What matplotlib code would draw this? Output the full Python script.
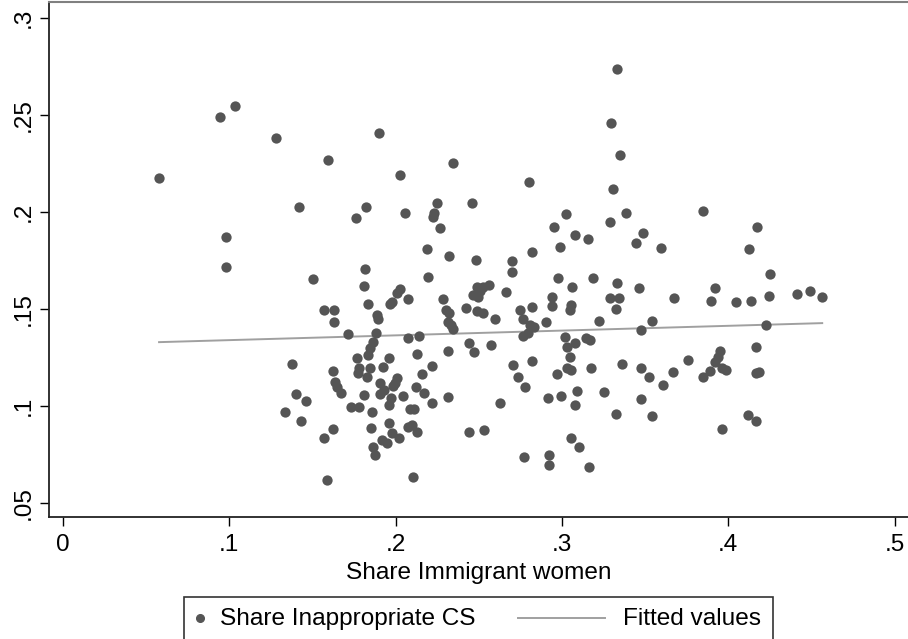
'''
Scatter of inappropriate CS share against immigrant women share,
with a linear fit (Stata-like look).
'''

import numpy as np
import matplotlib.pyplot as plt
from matplotlib.lines import Line2D
from matplotlib.patches import Rectangle

plt.rcParams['font.family'] = ['Liberation Sans', 'DejaVu Sans']

# values
share_immigrant = [
    0.1032, 0.0945, 0.1280, 0.0577, 0.1420, 0.0980, 0.0980, 0.1503,
    0.1566, 0.1375, 0.1399, 0.1462, 0.1333, 0.1432, 0.1566, 0.1585,
    0.1901, 0.1591, 0.2343, 0.2026, 0.1821, 0.1761, 0.2056, 0.2248, 0.2457, 0.2230,
    0.2222, 0.2268, 0.2190, 0.2320, 0.2485, 0.2698, 0.2698, 0.1815, 0.2196,
    0.1808, 0.2026, 0.2006, 0.1976, 0.1966, 0.2072, 0.1832, 0.1629, 0.1631,
    0.1886, 0.1895, 0.1715, 0.1880, 0.1862, 0.1845, 0.1835,
    0.2072, 0.2142, 0.2126, 0.2313, 0.2284, 0.2303, 0.2323, 0.2313, 0.2333, 0.2346,
    0.2421, 0.2487, 0.2507, 0.2527, 0.2563, 0.2467, 0.2497, 0.2487, 0.2523,
    0.2661, 0.2597, 0.2443, 0.2473, 0.2573,
    0.1625, 0.1635, 0.1649, 0.1671, 0.1769, 0.1781, 0.1775, 0.1826, 0.1845,
    0.1962, 0.1925, 0.1906, 0.1930, 0.1906, 0.2006, 0.1996, 0.1982, 0.1972, 0.1962,
    0.1809, 0.2042, 0.2120, 0.2172, 0.2156, 0.2216, 0.2220, 0.2316,
    0.1729, 0.1779, 0.1856, 0.2086, 0.2110, 0.1625, 0.1850,
    0.1962, 0.1976, 0.1916, 0.1946, 0.2022, 0.2076, 0.2096, 0.2130,
    0.1862, 0.1876, 0.2102, 0.2443, 0.2531, 0.2627,
    0.3331, 0.3295, 0.3349, 0.2802, 0.3309, 0.3848, 0.3026, 0.3383, 0.3289, 0.2954,
    0.3078, 0.3155, 0.3485, 0.3443, 0.3595, 0.2990, 0.2820, 0.2978, 0.3185,
    0.3058, 0.3329, 0.3465, 0.3675, 0.2938, 0.2938, 0.2818, 0.3052, 0.3048, 0.3289,
    0.3341, 0.3325, 0.2747, 0.2764, 0.2902, 0.3224, 0.3543,
    0.2808, 0.2832, 0.2797, 0.2764, 0.3473, 0.3018, 0.3144, 0.3168, 0.3078, 0.3032, 0.3048,
    0.2707, 0.2818, 0.2737, 0.2777, 0.3032, 0.3052, 0.2968, 0.3173, 0.3361, 0.3473,
    0.3525, 0.3666, 0.3756, 0.3606, 0.3846,
    0.2914, 0.2994, 0.3088, 0.3078, 0.3254, 0.3473, 0.3325, 0.3543,
    0.3054, 0.3102, 0.2771, 0.2924, 0.2924, 0.3161,
    0.4173, 0.4124, 0.4253,
    0.3920, 0.3896, 0.4048, 0.4135, 0.4247, 0.4411, 0.4489, 0.4565, 0.4225, 0.4167,
    0.3950, 0.3940, 0.3920, 0.3890, 0.3960, 0.3986, 0.4167, 0.4187, 0.4120, 0.4167, 0.3960,
]

share_inappropriate = [
    0.2546, 0.2491, 0.2380, 0.2174, 0.2028, 0.1870, 0.1719, 0.1654,
    0.1495, 0.1216, 0.1063, 0.1028, 0.0969, 0.0922, 0.0834, 0.0622,
    0.2406, 0.2270, 0.2254, 0.2193, 0.2028, 0.1968, 0.1997, 0.2048, 0.2048, 0.1994,
    0.1976, 0.1917, 0.1810, 0.1775, 0.1752, 0.1748, 0.1691, 0.1705, 0.1666,
    0.1621, 0.1604, 0.1585, 0.1538, 0.1525, 0.1551, 0.1525, 0.1496, 0.1435,
    0.1470, 0.1448, 0.1370, 0.1379, 0.1332, 0.1298, 0.1264,
    0.1350, 0.1362, 0.1268, 0.1284, 0.1551, 0.1496, 0.1479, 0.1435, 0.1418, 0.1396,
    0.1504, 0.1616, 0.1595, 0.1616, 0.1624, 0.1573, 0.1564, 0.1492, 0.1479,
    0.1590, 0.1448, 0.1324, 0.1278, 0.1315,
    0.1183, 0.1126, 0.1101, 0.1070, 0.1247, 0.1195, 0.1170, 0.1149, 0.1198,
    0.1247, 0.1204, 0.1118, 0.1084, 0.1063, 0.1144, 0.1118, 0.1104, 0.1041, 0.1006,
    0.1058, 0.1053, 0.1098, 0.1067, 0.1166, 0.1207, 0.1015, 0.1046,
    0.0994, 0.0994, 0.0972, 0.0984, 0.0984, 0.0881, 0.0889,
    0.0912, 0.0864, 0.0826, 0.0809, 0.0835, 0.0895, 0.0903, 0.0869,
    0.0792, 0.0749, 0.0637, 0.0869, 0.0875, 0.1015,
    0.2737, 0.2460, 0.2294, 0.2153, 0.2119, 0.2007, 0.1992, 0.1997, 0.1947, 0.1923,
    0.1882, 0.1861, 0.1892, 0.1842, 0.1817, 0.1820, 0.1793, 0.1662, 0.1662,
    0.1613, 0.1633, 0.1611, 0.1559, 0.1561, 0.1516, 0.1510, 0.1521, 0.1496, 0.1556,
    0.1556, 0.1499, 0.1496, 0.1448, 0.1432, 0.1441, 0.1439,
    0.1418, 0.1410, 0.1376, 0.1362, 0.1393, 0.1358, 0.1350, 0.1341, 0.1324, 0.1304, 0.1255,
    0.1212, 0.1233, 0.1152, 0.1101, 0.1195, 0.1187, 0.1166, 0.1197, 0.1216, 0.1195,
    0.1149, 0.1178, 0.1238, 0.1109, 0.1149,
    0.1041, 0.1054, 0.1080, 0.1006, 0.1075, 0.1036, 0.0960, 0.0950,
    0.0835, 0.0788, 0.0737, 0.0749, 0.0697, 0.0689,
    0.1922, 0.1810, 0.1680,
    0.1611, 0.1544, 0.1538, 0.1544, 0.1569, 0.1580, 0.1594, 0.1564, 0.1418, 0.1307,
    0.1284, 0.1252, 0.1229, 0.1183, 0.1195, 0.1187, 0.1173, 0.1178, 0.0955, 0.0925, 0.0883,
]

# fitted values at the ends of the observed x range, as printed in the chart
fitted_values = [0.1330, 0.1428]

x_ticks = [0, 0.1, 0.2, 0.3, 0.4, 0.5]
x_tick_labels = ['0', '.1', '.2', '.3', '.4', '.5']
y_ticks = [0.05, 0.1, 0.15, 0.2, 0.25, 0.3]
y_tick_labels = ['.05', '.1', '.15', '.2', '.25', '.3']

dot_color = '#555555'
fit_color = '#a0a0a0'
font_size = 17.6

x = np.array(share_immigrant)
y = np.array(share_inappropriate)

fig = plt.figure(figsize=(9.08, 6.39), dpi=100)
ax = fig.add_axes([0.0543, 0.1909, 0.9457, 0.8052])

ax.scatter(x, y, s=55, color=dot_color, linewidths=0, zorder=3)

x_fit = [x.min(), x.max()]
ax.plot(x_fit, fitted_values, color=fit_color, lw=1.4, zorder=2)

ax.set_xlim(-0.0083, 0.5081)
ax.set_ylim(0.0429, 0.3080)

ax.set_xticks(x_ticks)
ax.set_xticklabels(x_tick_labels, fontsize=font_size)
ax.set_yticks(y_ticks)
ax.set_yticklabels(y_tick_labels, fontsize=font_size, rotation=90, va='center')
ax.tick_params(axis='both', length=6.5, width=1, color='black')
ax.tick_params(axis='x', pad=6)
ax.tick_params(axis='y', pad=4)

ax.set_xlabel('Share Immigrant women', fontsize=font_size, labelpad=4)

ax.spines['right'].set_visible(False)
ax.spines['top'].set_color('#808080')
ax.spines['top'].set_linewidth(1.5)
for side in ('left', 'bottom'):
    ax.spines[side].set_color('#222222')
    ax.spines[side].set_linewidth(1.3)

# legend box below the plot, drawn by hand to get Stata's spacing
fig.patches.append(Rectangle((0.2026, -0.05), 0.6487, 0.1162,
                             transform=fig.transFigure, fill=False,
                             ec='#333333', lw=1.2))
fig.add_artist(Line2D([0.2203], [0.0329], marker='o', ms=5.5, color=dot_color,
                      mec=dot_color, transform=fig.transFigure))
fig.text(0.2423, 0.0315, 'Share Inappropriate CS', fontsize=font_size, va='center')
fig.add_artist(Line2D([0.5705, 0.6663], [0.0329, 0.0329], color=fit_color,
                      lw=1.4, transform=fig.transFigure))
fig.text(0.6856, 0.0315, 'Fitted values', fontsize=font_size, va='center')

fig.savefig('out.png', dpi=100)
